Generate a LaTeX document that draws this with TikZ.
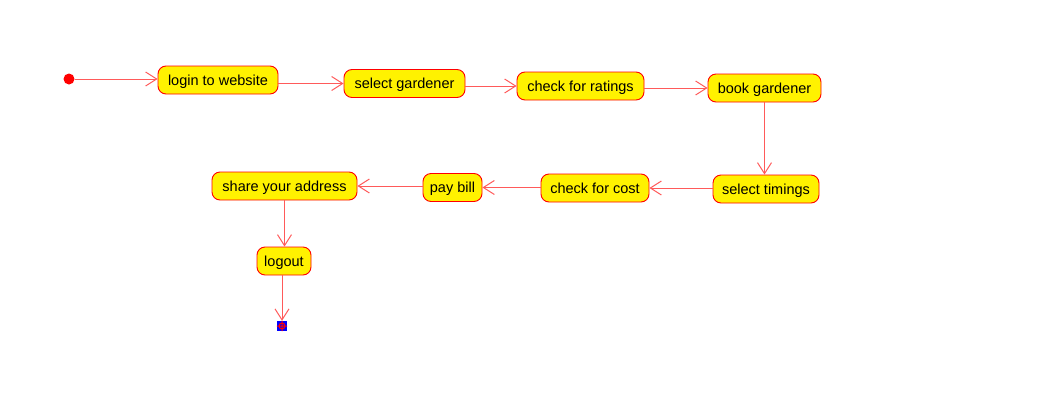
\documentclass[tikz,border=0pt]{standalone}
\usepackage{fontspec}
\setmainfont{Liberation Sans}
\usetikzlibrary{arrows.meta}
\definecolor{lnred}{RGB}{255,90,90}
\tikzset{
  act/.style={draw=red, fill=yellow, rounded corners=8pt, line width=0.9pt,
    minimum height=28pt, inner xsep=0pt, inner ysep=0pt, text height=12pt, text depth=2pt,
    font=\fontsize{14.5pt}{16pt}\selectfont, text=black},
  flow/.style={draw=lnred, line width=1pt, -{Straight Barb[length=11pt,width=14pt,line width=1pt]}},
}
\begin{document}
\begin{tikzpicture}[x=1pt,y=-1pt]
\useasboundingbox (0,0) rectangle (1042,405);
\node[circle, fill=red, inner sep=0pt, minimum size=11pt] (start) at (69,79) {};
\node[act, minimum width=120pt] (login) at (218,80) {login to website};
\node[act, minimum width=121pt] (selg) at (404.5,83.5) {select gardener};
\node[act, minimum width=127pt] (rate) at (580.5,86) {check for ratings};
\node[act, minimum width=113pt] (book) at (764.5,88) {book gardener};
\node[act, minimum width=106pt] (time) at (766,189) {select timings};
\node[act, minimum width=108pt] (cost) at (595,188) {check for cost};
\node[act, minimum width=59pt] (pay) at (452.5,187.5) {pay bill};
\node[act, minimum width=145pt] (addr) at (284.5,186) {share your address};
\node[act, minimum width=54pt] (logout) at (284,261) {logout};
\node[rectangle, fill=blue, inner sep=0pt, minimum size=10pt] (end) at (282,326) {};
\draw[red, line width=1pt] (end.center) circle (3pt)
  (end.north) -- (end.south) (end.west) -- (end.east);
\draw[flow] (start) -- (start -| login.west);
\draw[flow] (login.east |- selg) -- (selg.west);
\draw[flow] (selg.east |- rate) -- (rate.west);
\draw[flow] (rate.east |- book) -- (book.west);
\draw[flow] (book.south) -- (book.south |- time.north);
\draw[flow] (time.west |- cost) -- (cost.east);
\draw[flow] (cost.west |- pay) -- (pay.east);
\draw[flow] (pay.west |- addr) -- (addr.east);
\draw[flow] (addr.south) -- (addr.south |- logout.north);
\draw[flow] (logout.south -| end) -- (end.north);
\end{tikzpicture}
\end{document}
